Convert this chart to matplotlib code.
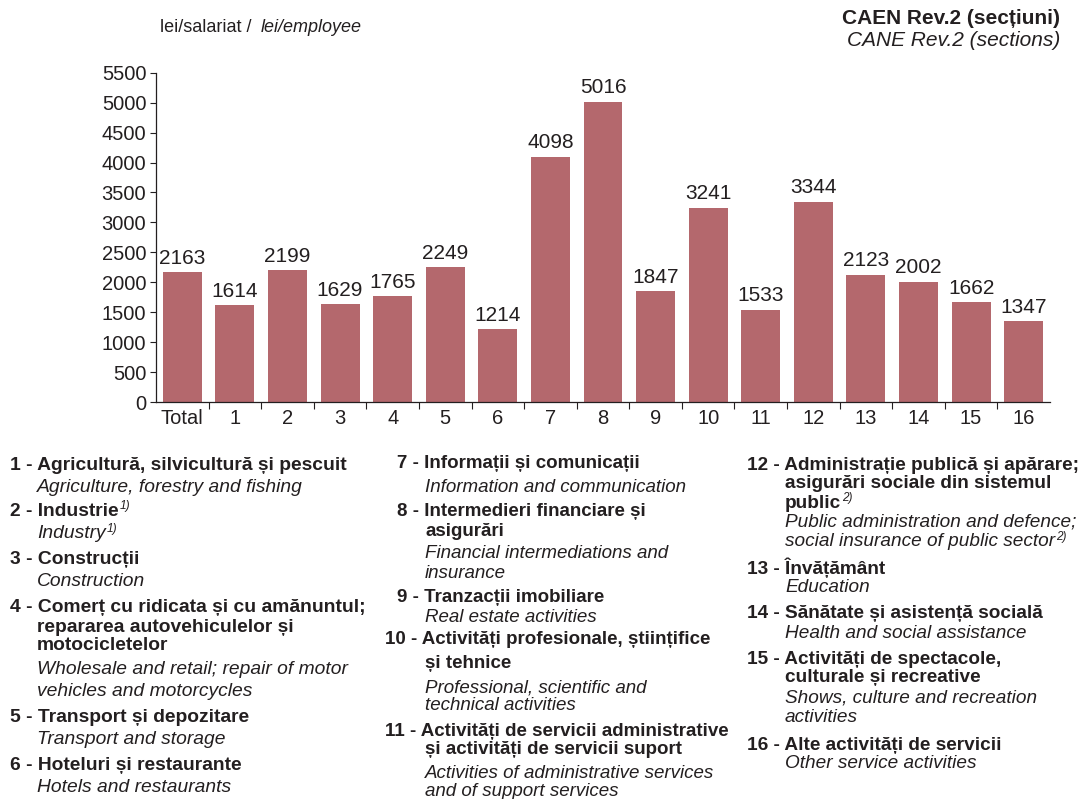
import matplotlib
matplotlib.use("Agg")
import matplotlib.pyplot as plt
import numpy as np

plt.rcParams['font.family'] = ['Liberation Sans', 'DejaVu Sans']

categories = ["Total", "1", "2", "3", "4", "5", "6", "7", "8", "9", "10",
              "11", "12", "13", "14", "15", "16"]
values = [2163, 1614, 2199, 1629, 1765, 2249, 1214, 4098, 5016, 1847, 3241,
          1533, 3344, 2123, 2002, 1662, 1347]
yticks = list(range(0, 5501, 500))

# legend lines: (text, style, indent-key, y pixel, superscript)
col1 = [
    ("1 - Agricultură, silvicultură și pescuit", "b", 0, 465, ""),
    ("Agriculture, forestry and fishing", "i", 1, 487, ""),
    ("2 - Industrie", "b", 0, 511, "1)"),
    ("Industry", "i", 1, 534, "1)"),
    ("3 - Construcții", "b", 0, 560, ""),
    ("Construction", "i", 1, 582, ""),
    ("4 - Comerț cu ridicata și cu amănuntul;", "b", 0, 608, ""),
    ("repararea autovehiculelor și", "b", 1, 627, ""),
    ("motocicletelor", "b", 1, 646, ""),
    ("Wholesale and retail; repair of motor", "i", 1, 670, ""),
    ("vehicles and motorcycles", "i", 1, 691, ""),
    ("5 - Transport și depozitare", "b", 0, 718, ""),
    ("Transport and storage", "i", 1, 740, ""),
    ("6 - Hoteluri și restaurante", "b", 0, 766, ""),
    ("Hotels and restaurants", "i", 1, 788, ""),
]
col2 = [
    ("7 - Informații și comunicații", "b", 0, 464, ""),
    ("Information and communication", "i", 1, 488, ""),
    ("8 - Intermedieri financiare și", "b", 0, 512, ""),
    ("asigurări", "b", 1, 531, ""),
    ("Financial intermediations and", "i", 1, 553, ""),
    ("insurance", "i", 1, 574, ""),
    ("9 - Tranzacții imobiliare", "b", 0, 598, ""),
    ("Real estate activities", "i", 1, 617, ""),
    ("10 - Activități profesionale, științifice", "b", 2, 640, ""),
    ("și tehnice", "b", 1, 663, ""),
    ("Professional, scientific and", "i", 1, 688, ""),
    ("technical activities", "i", 1, 706, ""),
    ("11 - Activități de servicii administrative", "b", 2, 731, ""),
    ("și activități de servicii suport", "b", 1, 750, ""),
    ("Activities of administrative services", "i", 1, 774, ""),
    ("and of support services", "i", 1, 792, ""),
]
col3 = [
    ("12 - Administrație publică și apărare;", "b", 0, 465, ""),
    ("asigurări sociale din sistemul", "b", 1, 484, ""),
    ("public", "b", 1, 503, "2)"),
    ("Public administration and defence;", "i", 1, 522, ""),
    ("social insurance of public sector", "i", 1, 542, "2)"),
    ("13 - Învățământ", "b", 0, 568, ""),
    ("Education", "i", 1, 587, ""),
    ("14 - Sănătate și asistență socială", "b", 0, 614, ""),
    ("Health and social assistance", "i", 1, 633, ""),
    ("15 - Activități de spectacole,", "b", 0, 660, ""),
    ("culturale și recreative", "b", 1, 678, ""),
    ("Shows, culture and recreation", "i", 1, 698, ""),
    ("activities", "i", 1, 717, ""),
    ("16 - Alte activități de servicii", "b", 0, 745, ""),
    ("Other service activities", "i", 1, 763, ""),
]

W, H = 1086, 799
TXT = "#231f20"
BAR = "#b4686d"

fig = plt.figure(figsize=(W / 100, H / 100), dpi=100)
ax = fig.add_axes([156 / W, 1 - 402 / H, (1050 - 156) / W, (402 - 72.7) / H])

x = np.arange(len(categories))
ax.bar(x, values, width=0.74, color=BAR, zorder=2)
for xi, v in zip(x, values):
    ax.text(xi, v + 80, str(v), ha="center", va="bottom", fontsize=15, color=TXT)

ax.set_xlim(-0.5, len(categories) - 0.5)
ax.set_ylim(0, 5500)
ax.set_yticks(yticks)
ax.set_yticklabels([str(t) for t in yticks], fontsize=14.5, color=TXT)
ax.set_xticks(x)
ax.set_xticklabels(categories, fontsize=14.5, color=TXT)
ax.set_xticks(np.arange(0.5, len(categories) - 1, 1.0), minor=True)
ax.tick_params(axis="x", which="major", length=0, pad=5)
ax.tick_params(axis="x", which="minor", length=5, direction="out", color=TXT, width=0.8)
ax.tick_params(axis="y", length=4, direction="out", color=TXT, width=0.8, pad=3)
for s in ["top", "right"]:
    ax.spines[s].set_visible(False)
for s in ["left", "bottom"]:
    ax.spines[s].set_color(TXT)
    ax.spines[s].set_linewidth(0.9)

def px(xp, yp):
    return xp / W, 1 - yp / H

# header
fig.text(*px(160, 27), "lei/salariat / ", fontsize=13, color=TXT, va="center", ha="left")
fig.text(*px(261, 27), "lei/employee", fontsize=13, color=TXT, va="center", ha="left", style="italic")
fig.text(*px(1060, 18), "CAEN Rev.2 (secțiuni)", fontsize=15, color=TXT, va="center", ha="right", weight="bold")
fig.text(*px(1060, 40), "CANE Rev.2 (sections)", fontsize=15, color=TXT, va="center", ha="right", style="italic")

renderer = fig.canvas.get_renderer()

def draw_col(lines, x0, xind, x10, fs):
    for text, st, ind, yp, sup in lines:
        xp = {0: x0, 1: xind, 2: x10}[ind]
        kw = dict(fontsize=fs, color=TXT, va="center", ha="left")
        if st == "b":
            kw["weight"] = "bold"
        else:
            kw["style"] = "italic"
        t = fig.text(*px(xp, yp), text, **kw)
        if sup:
            bb = t.get_window_extent(renderer)
            x1 = bb.x1 + 1
            skw = dict(fontsize=fs * 0.62, color=TXT, va="center", ha="left", style="italic")
            fig.text(x1 / W, 1 - (yp - 5) / H, sup, **skw)

draw_col(col1, 10, 37, 10, 13.9)
draw_col(col2, 397, 425, 385, 13.5)
draw_col(col3, 747, 785, 747, 13.7)

fig.savefig("out.png", dpi=100)
